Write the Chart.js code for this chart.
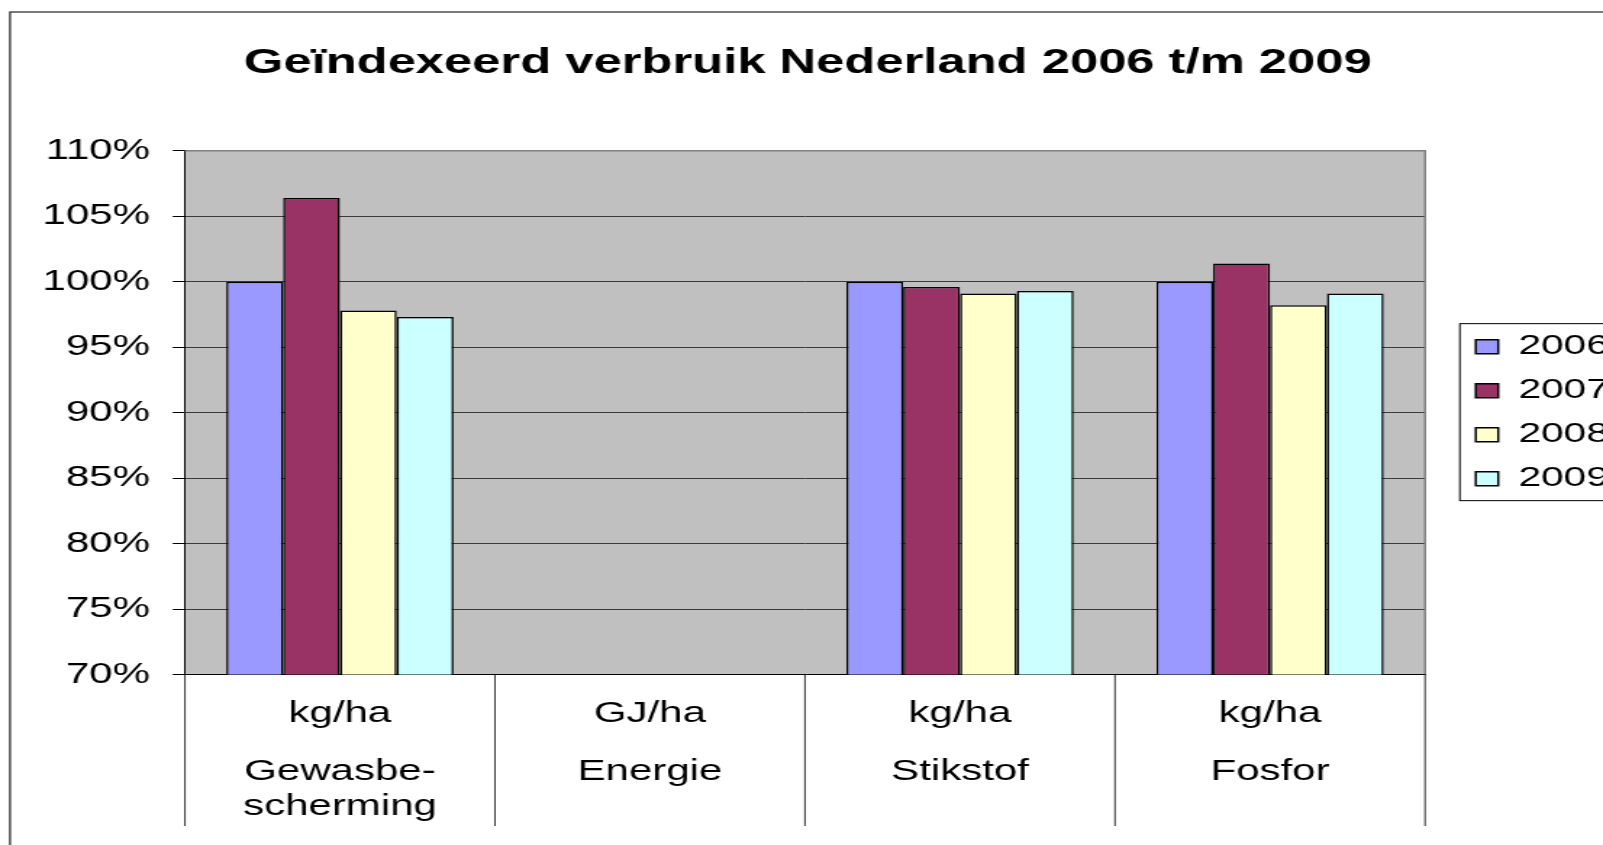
<!DOCTYPE html>
<html>
<head>
<meta charset="utf-8">
<script src="https://cdn.jsdelivr.net/npm/chart.js@4"></script>
<style>
  body { margin: 0; background: #fff; }
  #grafiek { display: block; width: 1603px; height: 845px; }
</style>
</head>
<body>
<canvas id="grafiek" width="1106" height="845" style="width:1603px;height:845px"></canvas>
<script>
// gegevens
var eenheden = ['kg/ha', 'GJ/ha', 'kg/ha', 'kg/ha'];
var onderwerpen = [['Gewasbe-', 'scherming'], 'Energie', 'Stikstof', 'Fosfor'];
var jaren = ['2006', '2007', '2008', '2009'];
var v2006 = [100, null, 100, 100];
var v2007 = [106.4, null, 99.6, 101.4];
var v2008 = [97.8, null, 99.1, 98.2];
var v2009 = [97.3, null, 99.3, 99.1];
var yMin = 70, yMax = 110, yStap = 5;

var kleuren = ['#9999FF', '#993366', '#FFFFCC', '#CCFFFF'];
var reeksen = [v2006, v2007, v2008, v2009];
var lettertype = 'Liberation Sans, Arial, sans-serif';

// grijze achtergrond van het plotvlak + rand rechts
var plotVlak = {
  id: 'plotVlak',
  beforeDraw: function (chart) {
    var ctx = chart.ctx, a = chart.chartArea;
    ctx.save();
    ctx.fillStyle = '#fff';
    ctx.fillRect(0, 0, chart.width, chart.height);
    ctx.fillStyle = '#C0C0C0';
    ctx.fillRect(a.left, a.top, a.right - a.left, a.bottom - a.top);
    ctx.restore();
  },
  beforeDatasetsDraw: function (chart) {
    var ctx = chart.ctx, a = chart.chartArea;
    ctx.save();
    ctx.strokeStyle = '#808080';
    ctx.lineWidth = 1.5;
    ctx.beginPath();
    ctx.moveTo(a.left, a.top);
    ctx.lineTo(a.right, a.top);
    ctx.lineTo(a.right, a.bottom);
    ctx.stroke();
    ctx.restore();
  },
  afterLayout: function (chart) {
    // legenda iets naar rechts schuiven
    chart.legend.left += 19;
    chart.legend.right += 19;
  },
  afterDraw: function (chart) {
    var ctx = chart.ctx, a = chart.chartArea, x = chart.scales.x;
    ctx.save();
    // scheidingslijnen onder de as
    var half = (x.getPixelForValue(1) - x.getPixelForValue(0)) / 2;
    ctx.strokeStyle = '#000';
    ctx.lineWidth = 0.8;
    for (var i = 0; i <= eenheden.length; i++) {
      var px = x.getPixelForValue(i) - half;
      ctx.beginPath();
      ctx.moveTo(px, a.bottom);
      ctx.lineTo(px, 826);
      ctx.stroke();
    }
    // kader om de legenda
    var hb = chart.legend.legendHitBoxes;
    if (hb && hb.length) {
      var l = hb[0].left - 11, t = hb[0].top - 9;
      var b = hb[hb.length - 1].top + hb[hb.length - 1].height + 8;
      ctx.strokeStyle = '#000';
      ctx.lineWidth = 1;
      ctx.strokeRect(l, t, chart.width + 20 - l, b - t);
    }
    // kader om de hele grafiek
    ctx.strokeStyle = '#222';
    ctx.lineWidth = 1.2;
    ctx.strokeRect(6.9, 12, chart.width + 20, chart.height + 20);
    ctx.restore();
  }
};

var ctx = document.getElementById('grafiek').getContext('2d');
var chart = new Chart(ctx, {
  type: 'bar',
  data: {
    labels: eenheden,
    datasets: jaren.map(function (jaar, i) {
      return {
        label: jaar,
        data: reeksen[i],
        backgroundColor: kleuren[i],
        borderColor: '#000',
        borderWidth: 1.5,
        categoryPercentage: 0.733,
        barPercentage: 1
      };
    })
  },
  options: {
    responsive: false,
    devicePixelRatio: 1,
    animation: false,
    layout: { padding: { left: 13.6, right: 5, top: 0, bottom: 19.7 } },
    plugins: {
      title: {
        display: true,
        text: 'Geïndexeerd verbruik Nederland 2006 t/m 2009',
        color: '#000',
        font: { family: lettertype, size: 35, weight: 'bold' },
        padding: { top: 42.4, bottom: 66.4 }
      },
      legend: {
        position: 'right',
        labels: {
          color: '#000',
          font: { family: lettertype, size: 28 },
          boxWidth: 15.5,
          boxHeight: 14,
          padding: 16
        }
      },
      tooltip: { enabled: false }
    },
    scales: {
      x: {
        weight: 0,
        grid: { drawOnChartArea: false, drawTicks: false },
        border: { color: '#000', width: 1 },
        ticks: {
          color: '#000',
          font: { family: lettertype, size: 29 },
          padding: 22,
          maxRotation: 0,
          autoSkip: false
        }
      },
      x2: {
        type: 'category',
        position: 'bottom',
        weight: 1,
        labels: onderwerpen,
        offset: true,
        grid: { display: false, drawTicks: false },
        border: { display: false },
        ticks: {
          color: '#000',
          font: { family: lettertype, size: 29, lineHeight: 1.2 },
          padding: 1.2,
          maxRotation: 0,
          autoSkip: false
        }
      },
      y: {
        min: yMin,
        max: yMax,
        grid: {
          color: function (c) { return c.tick && c.tick.value === yMax ? '#808080' : '#3a3a3a'; },
          tickColor: '#000',
          tickLength: 8.4,
          lineWidth: 1
        },
        border: { color: '#000', width: 1 },
        ticks: {
          stepSize: yStap,
          color: '#000',
          padding: 15.7,
          font: { family: lettertype, size: 29 },
          callback: function (v) { return v + '%'; }
        }
      }
    }
  },
  plugins: [plotVlak]
});
</script>
</body>
</html>
